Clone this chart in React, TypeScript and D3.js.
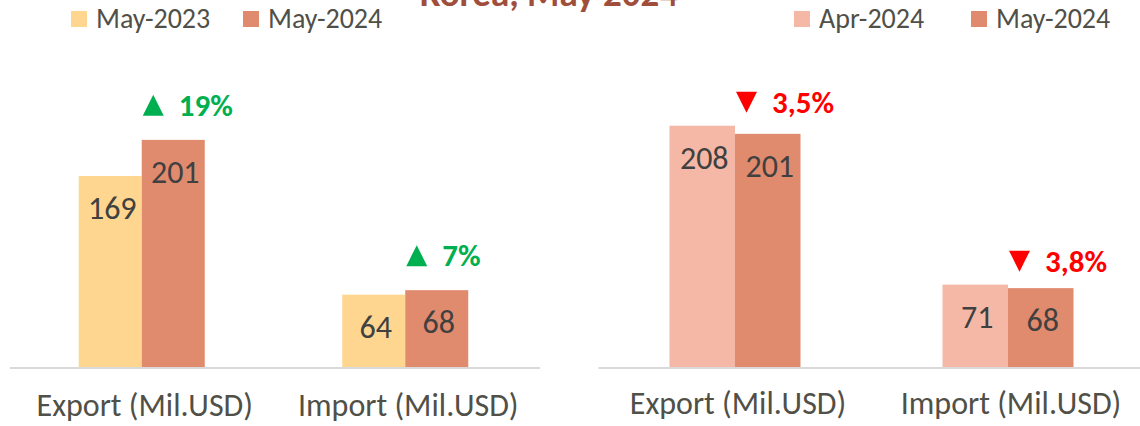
import React from 'react';
import { scaleLinear, scalePoint, scaleBand, max } from 'd3';

// values
const categories = ['Export (Mil.USD)', 'Import (Mil.USD)'];

const leftSeries = ['May-2023', 'May-2024'];
const may2023 = [169, 64];
const may2024 = [201, 68];
const yoyChange = ['19%', '7%'];

const rightSeries = ['Apr-2024', 'May-2024'];
const apr2024 = [208, 71];
const momChange = ['3,5%', '3,8%'];

const titleText = 'Korea, May 2024';

const FONT = "Carlito, Calibri, Lato, 'Open Sans', sans-serif";
const TEXT = '#505048';

type PanelProps = {
	x0: number;
	x1: number;
	yTop: number;
	barW: number;
	series: string[];
	values: number[][];
	colors: string[];
	changes: string[];
	up: boolean;
	noteOffset: number;
	legendX: number[];
	labelY: number;
	axisEnd: number;
};

const Panel = (props: PanelProps) => {
	const { x0, x1, yTop, barW, series, values, colors, changes, up, noteOffset, legendX, labelY, axisEnd } = props;
	const baseY = 367;

	const xScale = scalePoint<string>().domain(categories).range([x0, x1]).padding(0.5);
	const inner = scaleBand<string>().domain(series).range([-barW, barW]);
	const yScale = scaleLinear().domain([0, 250]).range([baseY, yTop]);

	const noteColor = up ? '#00B050' : '#FF0000';

	return (
		<g>
			{/* legend */}
			{series.map((s, i) => (
				<g key={s} transform={`translate(${legendX[i]},0)`}>
					<rect x={0} y={11} width={16} height={16} fill={colors[i]} />
					<text x={25} y={28} fontSize={28} fill={TEXT} fontFamily={FONT}>{s}</text>
				</g>
			))}

			{/* bars */}
			{categories.map((c, ci) => {
				const cx = xScale(c) as number;
				const top = max(values, (v) => v[ci]) as number;
				const noteY = yScale(top) - noteOffset;
				const tx = cx + 1;
				const tri = up
					? `M${tx},${noteY} L${tx + 21},${noteY} L${tx + 10.5},${noteY - 21} Z`
					: `M${tx},${noteY - 21} L${tx + 21},${noteY - 21} L${tx + 10.5},${noteY} Z`;
				return (
					<g key={c}>
						{series.map((s, si) => {
							const v = values[si][ci];
							const bx = cx + (inner(s) as number);
							return (
								<g key={s}>
									<rect x={bx} y={yScale(v)} width={inner.bandwidth()} height={baseY - yScale(v)} fill={colors[si]} />
									<text x={bx + inner.bandwidth() / 2 + 2} y={yScale(v) + 43} textAnchor="middle"
									      fontSize={32} fill="#404040" fontFamily={FONT}>{v}</text>
								</g>
							);
						})}
						<path d={tri} fill={noteColor} />
						<text x={cx + 37} y={noteY} fontSize={31} fontWeight="bold" fill={noteColor} fontFamily={FONT}>{changes[ci]}</text>
						<text x={cx + 3} y={labelY} textAnchor="middle" fontSize={32} fill={TEXT} fontFamily={FONT}>{c}</text>
					</g>
				);
			})}

			{/* category axis line */}
			<line x1={x0} x2={axisEnd} y1={baseY + 1} y2={baseY + 1} stroke="#d9d9d9" strokeWidth={2} />
		</g>
	);
};

export default function App() {
	return (
		<svg width={1140} height={426} style={{ position: 'absolute', left: 0, top: 0, background: '#fff' }}>
			<rect width={1140} height={426} fill="#fff" />
			<text x={549} y={6} textAnchor="middle" fontSize={37} fontWeight="bold" fill="#A04E3C" fontFamily={FONT}>{titleText}</text>

			<Panel
				x0={10} x1={537} yTop={84.5} barW={63}
				series={leftSeries} values={[may2023, may2024]}
				colors={['#FED68F', '#E08B6E']}
				changes={yoyChange} up={true} noteOffset={24}
				legendX={[71, 243]} labelY={416} axisEnd={540}
			/>
			<Panel
				x0={598.5} x1={1144.5} yTop={77} barW={65.5}
				series={rightSeries} values={[apr2024, may2024]}
				colors={['#F6B8A6', '#E08B6E']}
				changes={momChange} up={false} noteOffset={13}
				legendX={[794, 971]} labelY={414} axisEnd={1140}
			/>
		</svg>
	);
}
